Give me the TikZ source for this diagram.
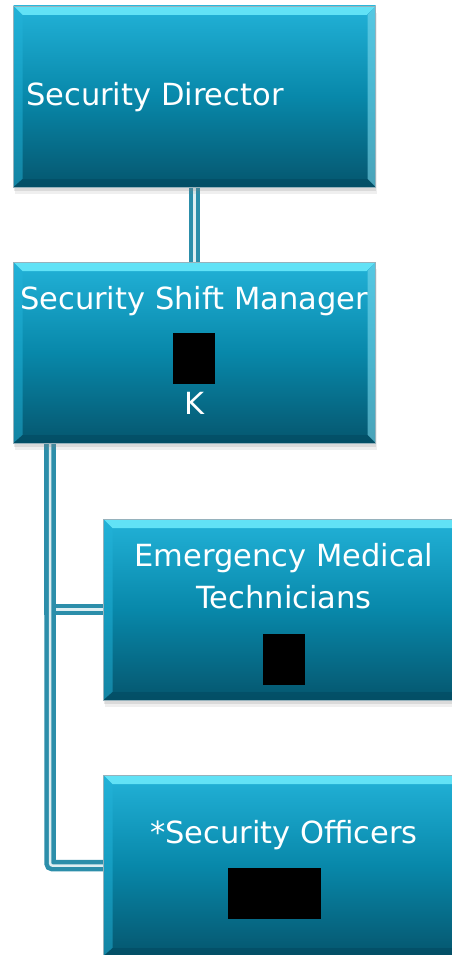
\documentclass[tikz,border=0pt]{standalone}
\usepackage{fontspec}
\setmainfont{DejaVu Sans}
\usetikzlibrary{shadows,backgrounds}
\definecolor{boxtop}{RGB}{34,178,216}
\definecolor{boxmid}{RGB}{8,136,170}
\definecolor{boxbot}{RGB}{5,86,110}
\definecolor{bevtop}{RGB}{105,232,250}
\definecolor{bevside}{RGB}{120,215,235}
\definecolor{bevbot}{RGB}{3,72,94}
\definecolor{boxline}{RGB}{150,178,188}
\definecolor{linkteal}{RGB}{44,142,170}
\definecolor{linkgap}{RGB}{222,238,242}
\tikzset{
  orgbox/.style={minimum width=362pt, minimum height=181pt, inner sep=0pt,
    top color=boxtop, bottom color=boxbot, middle color=boxmid,
    draw=boxline, line width=0.6pt,
    drop shadow={opacity=0.12, shadow xshift=1pt, shadow yshift=-7pt},
    drop shadow={opacity=0.18, shadow xshift=0.5pt, shadow yshift=-4pt},
    path picture={
      \fill[bevtop,opacity=0.9] (path picture bounding box.north west) -- (path picture bounding box.north east)
        -- ([shift={(-9pt,-9pt)}]path picture bounding box.north east) -- ([shift={(9pt,-9pt)}]path picture bounding box.north west) -- cycle;
      \fill[bevside,opacity=0.6] (path picture bounding box.north east) -- (path picture bounding box.south east)
        -- ([shift={(-8pt,8pt)}]path picture bounding box.south east) -- ([shift={(-8pt,-9pt)}]path picture bounding box.north east) -- cycle;
      \fill[boxtop,opacity=0.5] (path picture bounding box.north west) -- (path picture bounding box.south west)
        -- ([shift={(9pt,8pt)}]path picture bounding box.south west) -- ([shift={(9pt,-9pt)}]path picture bounding box.north west) -- cycle;
      \fill[bevbot,opacity=0.5] (path picture bounding box.south west) -- (path picture bounding box.south east)
        -- ([shift={(-8pt,8pt)}]path picture bounding box.south east) -- ([shift={(9pt,8pt)}]path picture bounding box.south west) -- cycle;
    }},
  boxtext/.style={text=white, font=\fontsize{30.5}{44}\selectfont, inner sep=0pt},
  hidden/.style={fill=black, inner sep=0pt},
  link/.style={draw=linkteal, line width=4.5pt, double=linkgap, double distance=2.5pt}
}
\begin{document}
\begin{tikzpicture}[x=1pt,y=-1pt]
    \useasboundingbox (0,0) rectangle (452,955);
    % boxes
    \node[orgbox] (dir) at (194.5,96.5) {};
    \node[orgbox] (mgr) at (194.5,352.5) {};
    \node[orgbox] (emt) at (284.5,609.5) {};
    \node[orgbox] (sec) at (284.5,865.5) {};
    % texts
    \node[boxtext,anchor=base west] (dirtxt) at (26,106) {Security Director};
    \node[boxtext,anchor=base] (mgrtxt) at (194,309) {Security Shift Manager};
    \node[hidden,minimum width=42pt,minimum height=51pt] (mgrid) at (194,358.5) {};
    \node[boxtext,anchor=base] (mgrk) at (194,414) {K};
    \node[boxtext,anchor=base] (emttxt) at (284,566) {Emergency Medical};
    \node[boxtext,anchor=base] (emttxt2) at (284,608) {Technicians};
    \node[hidden,minimum width=42pt,minimum height=51pt] (emtid) at (284,659.5) {};
    \node[boxtext,anchor=base] (sectxt) at (284,843) {*Security Officers};
    \node[hidden,minimum width=93pt,minimum height=51pt] (secid) at (274.5,893.5) {};
    % connectors
    \begin{scope}[on background layer]
        \fill[white] (0,0) rectangle (452,955);
        \draw[link] (dir.south) -- (mgr.north);
        \draw[link] ([xshift=37pt]mgr.south west) |- (emt.west);
        \draw[link,rounded corners=2pt] ([xshift=37pt]mgr.south west) |- (sec.west);
    \end{scope}
\end{tikzpicture}
\end{document}
